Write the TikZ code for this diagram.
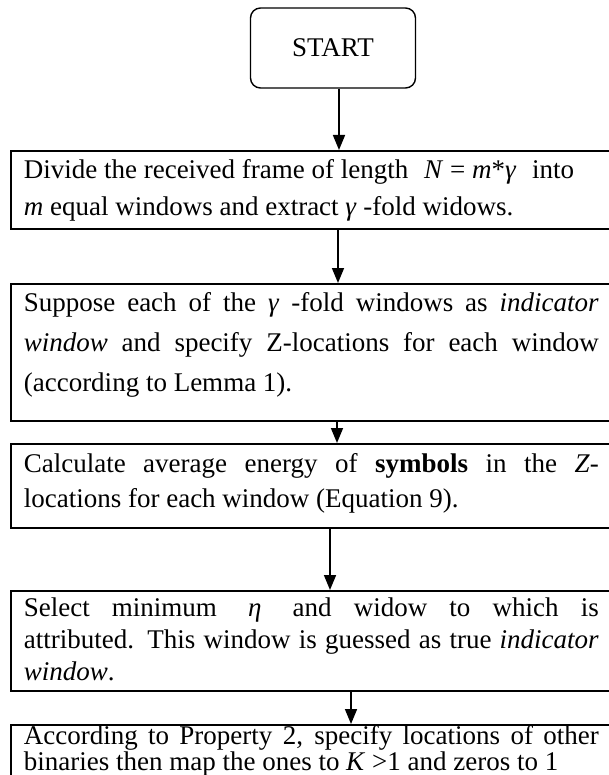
\documentclass[tikz,border=0pt]{standalone}
\usepackage{fontspec}
\setmainfont{Liberation Serif}
\usetikzlibrary{arrows.meta}
\begin{document}
\begin{tikzpicture}[x=1pt,y=-1pt,
  box/.style={draw,line width=1.6pt,rectangle,anchor=north west,inner xsep=13pt,inner ysep=0pt,
    text width=575pt,align=justify},
  startbox/.style={draw,line width=1.4pt,rounded corners=10pt,minimum width=165pt,minimum height=80pt,
    font=\fontsize{27}{30}\selectfont},
  arr/.style={line width=1.6pt,-{Triangle[width=12pt,length=15pt]}}]
\useasboundingbox (0,0) rectangle (609,775);
\node[startbox] (s) at (333,48) {START};
% box 1: top 150, bottom 228
\node[box,text height=28pt,text depth=50pt,font=\fontsize{27}{37}\selectfont] (b1) at (10,150)
  {Divide the received frame of length\hspace{9pt} \textit{N} = \textit{m}*\textit{γ}\hspace{9pt} into\newline
   \textit{m} equal windows and extract \textit{γ} -fold widows.};
% box 2: top 283, bottom 420
\node[box,text height=28pt,text depth=109pt,font=\fontsize{27}{40}\selectfont] (b2) at (10,283)
  {Suppose each of the \textit{γ} -fold windows as \textit{indicator}\linebreak
   \textit{window} and specify Z-locations for each window\linebreak
   (according to Lemma 1).};
% box 3: top 443, bottom 527
\node[box,text height=29pt,text depth=55pt,font=\fontsize{27}{35}\selectfont] (b3) at (10,443)
  {Calculate average energy of \textbf{symbols} in the \textit{Z}-\linebreak
   locations for each window (Equation 9).};
% box 4: top 590, bottom 690
\node[box,text height=26pt,text depth=74pt,font=\fontsize{27}{32}\selectfont] (b4) at (10,590)
  {Select minimum\hspace{9pt} \textit{η}\hspace{9pt} and widow to which is\linebreak
   attributed. This window is guessed as true \textit{indicator}\linebreak
   \textit{window}.};
% box 5: top 724
\node[box,text height=20pt,text depth=40pt,font=\fontsize{27}{22}\selectfont] (b5) at (10,724)
  {According to Property 2, specify locations of other\linebreak
   binaries then map the ones to \textit{K} >1 and zeros to 1};
\coordinate (c1) at (339,0);
\coordinate (c2) at (338,0);
\coordinate (c3) at (337,0);
\coordinate (c4) at (330,0);
\coordinate (c5) at (351,0);
\draw[arr] (s.south -| c1) -- (b1.north -| c1);
\draw[arr] (b1.south -| c2) -- (b2.north -| c2);
\draw[arr] (b2.south -| c3) -- (b3.north -| c3);
\draw[arr] (b3.south -| c4) -- (b4.north -| c4);
\draw[arr] (b4.south -| c5) -- (b5.north -| c5);
\end{tikzpicture}
\end{document}
